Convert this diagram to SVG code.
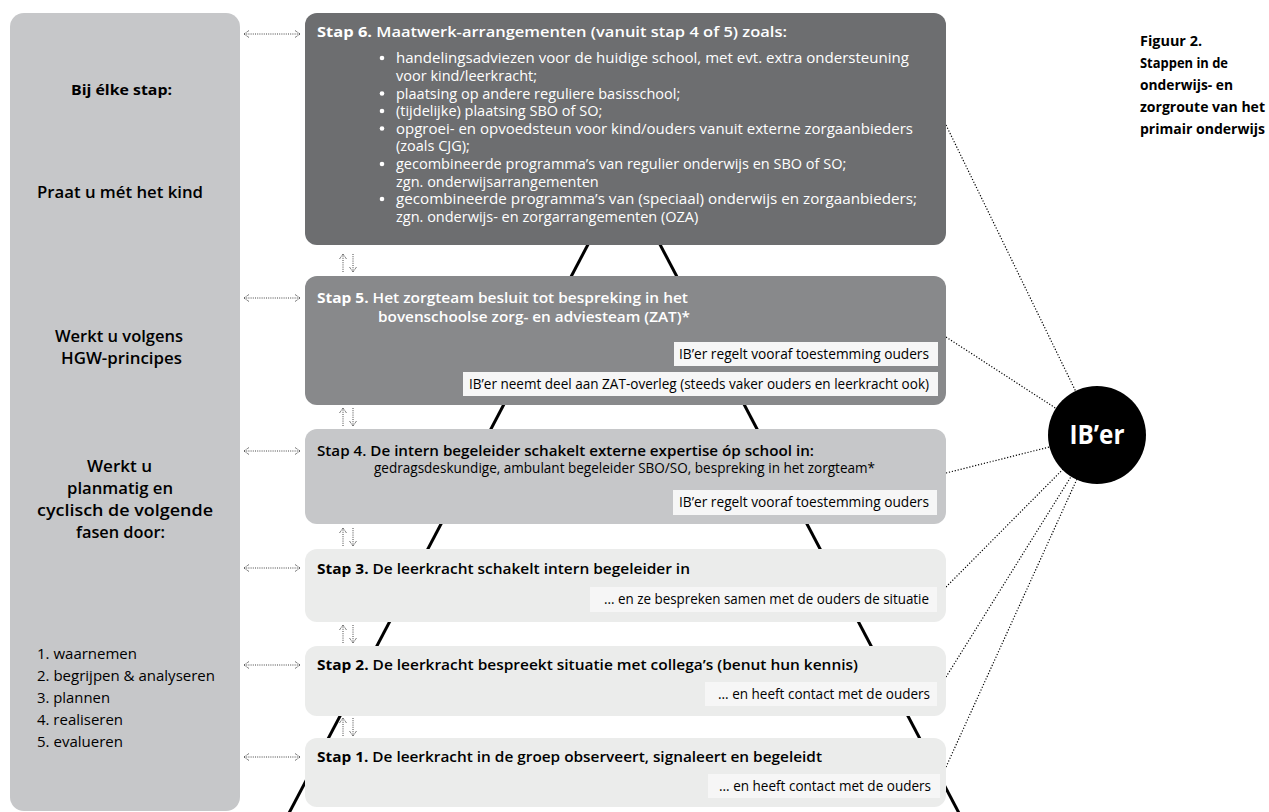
<svg xmlns="http://www.w3.org/2000/svg" width="1269" height="812" viewBox="0 0 1269 812">
<style>
text{font-family:"Open Sans","Noto Sans","Liberation Sans",sans-serif;fill:#000}
.w{fill:#fff}
.b{font-weight:700}
.t{font-size:15px;font-weight:600}
.bul{font-size:14.5px;fill:#fff}
.lab{font-size:14px}
.lp{font-size:16px;font-weight:600;text-anchor:middle}
.li{font-size:15px}
.cap{font-size:14px;font-weight:700}
.lbl{fill:#f6f6f6}
.dot{stroke:#000;stroke-width:1.2;stroke-dasharray:1.2 1.8;fill:none}
.arr{stroke:#444;stroke-width:1;stroke-dasharray:1 1.2;fill:none;marker-end:url(#ah)}
.harr{stroke:#444;stroke-width:1;stroke-dasharray:1 1.2;fill:none;marker-end:url(#ah);marker-start:url(#ah)}
.pyr{stroke:#000;stroke-width:3;fill:none}
</style>
<defs>
<marker id="ah" viewBox="0 0 6 8" refX="5.5" refY="4" markerWidth="6" markerHeight="8" markerUnits="userSpaceOnUse" orient="auto-start-reverse"><path d="M0.5,0.5 L5.5,4 L0.5,7.5" fill="none" stroke="#444" stroke-width="0.9" stroke-dasharray="1 0.6"/></marker>
</defs>

<g id="pyramid">
<line class="pyr" x1="624" y1="176" x2="288" y2="815"/>
<line class="pyr" x1="624" y1="176" x2="960" y2="815"/>
</g>

<g id="left-panel">
<rect x="10" y="13" width="230" height="798" rx="14" fill="#c6c7c9"/>
<text class="b" x="121.5" y="95" font-size="14" text-anchor="middle" textLength="101" lengthAdjust="spacingAndGlyphs">Bij élke stap:</text>
<text class="lp" x="120" y="198" textLength="166" lengthAdjust="spacingAndGlyphs">Praat u mét het kind</text>
<text class="lp" x="119" y="342" textLength="128" lengthAdjust="spacingAndGlyphs">Werkt u volgens</text>
<text class="lp" x="121.5" y="364" textLength="121" lengthAdjust="spacingAndGlyphs">HGW-principes</text>
<text class="lp" x="119.5" y="472" textLength="65" lengthAdjust="spacingAndGlyphs">Werkt u</text>
<text class="lp" x="120" y="494" textLength="106" lengthAdjust="spacingAndGlyphs">planmatig en</text>
<text class="lp" x="125" y="516" textLength="176" lengthAdjust="spacingAndGlyphs">cyclisch de volgende</text>
<text class="lp" x="120.5" y="538" textLength="89" lengthAdjust="spacingAndGlyphs">fasen door:</text>
<text class="li" x="37" y="659" textLength="100" lengthAdjust="spacingAndGlyphs">1. waarnemen</text>
<text class="li" x="37" y="681" textLength="178" lengthAdjust="spacingAndGlyphs">2. begrijpen &amp; analyseren</text>
<text class="li" x="37" y="703" textLength="73" lengthAdjust="spacingAndGlyphs">3. plannen</text>
<text class="li" x="37" y="725" textLength="86" lengthAdjust="spacingAndGlyphs">4. realiseren</text>
<text class="li" x="37" y="747" textLength="86" lengthAdjust="spacingAndGlyphs">5. evalueren</text>
</g>

<g id="connectors">
<line class="harr" x1="244" y1="34" x2="300" y2="34"/>
<line class="harr" x1="244" y1="298" x2="300" y2="298"/>
<line class="harr" x1="244" y1="451" x2="300" y2="451"/>
<line class="harr" x1="244" y1="568" x2="300" y2="568"/>
<line class="harr" x1="244" y1="665" x2="300" y2="665"/>
<line class="harr" x1="244" y1="757" x2="300" y2="757"/>
<line class="arr" x1="343" y1="272" x2="343" y2="254"/>
<line class="arr" x1="353" y1="254" x2="353" y2="272"/>
<line class="arr" x1="343" y1="426" x2="343" y2="408"/>
<line class="arr" x1="353" y1="408" x2="353" y2="426"/>
<line class="arr" x1="343" y1="546" x2="343" y2="528"/>
<line class="arr" x1="353" y1="528" x2="353" y2="546"/>
<line class="arr" x1="343" y1="643" x2="343" y2="625"/>
<line class="arr" x1="353" y1="625" x2="353" y2="643"/>
<line class="arr" x1="343" y1="736" x2="343" y2="718"/>
<line class="arr" x1="353" y1="718" x2="353" y2="736"/>
<line class="dot" x1="946" y1="125" x2="1097" y2="435"/>
<line class="dot" x1="946" y1="337" x2="1097" y2="435"/>
<line class="dot" x1="946" y1="473" x2="1097" y2="435"/>
<line class="dot" x1="946" y1="587" x2="1097" y2="435"/>
<line class="dot" x1="946" y1="677" x2="1097" y2="435"/>
<line class="dot" x1="946" y1="767" x2="1097" y2="435"/>
</g>

<g id="stap6">
<rect x="305" y="13" width="641" height="232" rx="12" fill="#6d6e70"/>
<text class="t w" x="317" y="37" textLength="470" lengthAdjust="spacingAndGlyphs"><tspan class="b">Stap 6.</tspan> Maatwerk-arrangementen (vanuit stap 4 of 5) zoals:</text>
<g fill="#fff">
<circle cx="382" cy="58" r="2.3"/>
<circle cx="382" cy="93.5" r="2.3"/>
<circle cx="382" cy="111" r="2.3"/>
<circle cx="382" cy="128.5" r="2.3"/>
<circle cx="382" cy="164" r="2.3"/>
<circle cx="382" cy="199" r="2.3"/>
</g>
<text class="bul" x="396" y="63" textLength="513" lengthAdjust="spacingAndGlyphs">handelingsadviezen voor de huidige school, met evt. extra ondersteuning</text>
<text class="bul" x="396" y="80.5">voor kind/leerkracht;</text>
<text class="bul" x="396" y="98.5">plaatsing op andere reguliere basisschool;</text>
<text class="bul" x="396" y="116">(tijdelijke) plaatsing SBO of SO;</text>
<text class="bul" x="396" y="133.5" textLength="517" lengthAdjust="spacingAndGlyphs">opgroei- en opvoedsteun voor kind/ouders vanuit externe zorgaanbieders</text>
<text class="bul" x="396" y="151">(zoals CJG);</text>
<text class="bul" x="396" y="169">gecombineerde programma’s van regulier onderwijs en SBO of SO;</text>
<text class="bul" x="396" y="186.5">zgn. onderwijsarrangementen</text>
<text class="bul" x="396" y="204" textLength="521" lengthAdjust="spacingAndGlyphs">gecombineerde programma’s van (speciaal) onderwijs en zorgaanbieders;</text>
<text class="bul" x="396" y="221.5">zgn. onderwijs- en zorgarrangementen (OZA)</text>
</g>

<g id="stap5">
<rect x="305" y="276" width="641" height="129" rx="12" fill="#88898b"/>
<text class="t w" x="317" y="303" textLength="371" lengthAdjust="spacingAndGlyphs"><tspan class="b">Stap 5.</tspan> Het zorgteam besluit tot bespreking in het</text>
<text class="t w" x="378" y="322" textLength="312" lengthAdjust="spacingAndGlyphs">bovenschoolse zorg- en adviesteam (ZAT)*</text>
<rect class="lbl" x="674" y="342" width="264" height="24"/>
<text class="lab" x="929" y="359" text-anchor="end" textLength="250" lengthAdjust="spacingAndGlyphs">IB’er regelt vooraf toestemming ouders</text>
<rect class="lbl" x="463" y="372" width="475" height="24"/>
<text class="lab" x="929" y="389" text-anchor="end" textLength="460" lengthAdjust="spacingAndGlyphs">IB’er neemt deel aan ZAT-overleg (steeds vaker ouders en leerkracht ook)</text>
</g>

<g id="stap4">
<rect x="305" y="429" width="641" height="95" rx="12" fill="#c6c7c9"/>
<text class="t b" x="317" y="456" textLength="497" lengthAdjust="spacingAndGlyphs">Stap 4. De intern begeleider schakelt externe expertise óp school in:</text>
<text class="lab" x="374" y="473" textLength="501" lengthAdjust="spacingAndGlyphs">gedragsdeskundige, ambulant begeleider SBO/SO, bespreking in het zorgteam*</text>
<rect class="lbl" x="673" y="490" width="264" height="25"/>
<text class="lab" x="929" y="507" text-anchor="end" textLength="250" lengthAdjust="spacingAndGlyphs">IB’er regelt vooraf toestemming ouders</text>
</g>

<g id="stap3">
<rect x="305" y="549" width="641" height="73" rx="12" fill="#ebeceb"/>
<text class="t" x="317" y="574" textLength="373" lengthAdjust="spacingAndGlyphs"><tspan class="b">Stap 3.</tspan> De leerkracht schakelt intern begeleider in</text>
<rect class="lbl" x="590" y="587" width="347" height="25"/>
<text class="lab" x="929" y="604" text-anchor="end" textLength="325" lengthAdjust="spacingAndGlyphs">... en ze bespreken samen met de ouders de situatie</text>
</g>

<g id="stap2">
<rect x="305" y="646" width="641" height="70" rx="12" fill="#ebeceb"/>
<text class="t" x="317" y="670" textLength="541" lengthAdjust="spacingAndGlyphs"><tspan class="b">Stap 2.</tspan> De leerkracht bespreekt situatie met collega’s (benut hun kennis)</text>
<rect class="lbl" x="705" y="682" width="232" height="24"/>
<text class="lab" x="930" y="699" text-anchor="end" textLength="212" lengthAdjust="spacingAndGlyphs">... en heeft contact met de ouders</text>
</g>

<g id="stap1">
<rect x="305" y="738" width="641" height="69" rx="12" fill="#ebeceb"/>
<text class="t" x="317" y="762" textLength="505" lengthAdjust="spacingAndGlyphs"><tspan class="b">Stap 1.</tspan> De leerkracht in de groep observeert, signaleert en begeleidt</text>
<rect class="lbl" x="708" y="774" width="232" height="24"/>
<text class="lab" x="931" y="791" text-anchor="end" textLength="212" lengthAdjust="spacingAndGlyphs">... en heeft contact met de ouders</text>
</g>

<g id="iber">
<circle cx="1097" cy="435" r="49" fill="#000"/>
<text class="b w" x="1097" y="444" font-size="26" text-anchor="middle" textLength="55" lengthAdjust="spacingAndGlyphs">IB’er</text>
</g>

<g id="caption">
<text class="cap" x="1140" y="46" textLength="62" lengthAdjust="spacingAndGlyphs">Figuur 2.</text>
<text class="cap" x="1140" y="68" textLength="88" lengthAdjust="spacingAndGlyphs">Stappen in de</text>
<text class="cap" x="1140" y="90" textLength="93" lengthAdjust="spacingAndGlyphs">onderwijs- en</text>
<text class="cap" x="1140" y="112" textLength="125" lengthAdjust="spacingAndGlyphs">zorgroute van het</text>
<text class="cap" x="1140" y="134" textLength="125" lengthAdjust="spacingAndGlyphs">primair onderwijs</text>
</g>
</svg>
